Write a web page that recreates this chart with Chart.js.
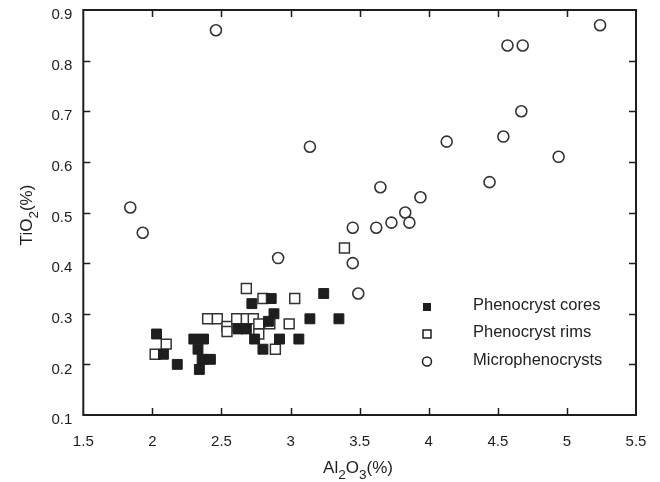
<!DOCTYPE html>
<html>
<head>
<meta charset="utf-8">
<script src="https://cdn.jsdelivr.net/npm/chart.js@4/dist/chart.umd.min.js"></script>
<style>
html,body{margin:0;padding:0;background:#fff;}
#wrap{width:660px;height:482px;}
</style>
</head>
<body>
<div id="wrap"><canvas id="c" width="660" height="482"></canvas></div>
<script>
// ---- data ----
const xTickLabels = ["1.5","2","2.5","3","3.5","4","4.5","5","5.5"];
const yTickLabels = ["0.1","0.2","0.3","0.4","0.5","0.6","0.7","0.8","0.9"];

const coresAl = [2.03, 2.08, 2.18, 2.30, 2.37, 2.33, 2.36, 2.42, 2.34, 2.72, 2.86, 2.88, 2.84, 2.62, 2.68, 2.74, 2.80, 2.92, 3.06, 3.14, 3.35, 3.24];
const coresTi = [0.26, 0.22, 0.20, 0.25, 0.25, 0.23, 0.21, 0.21, 0.19, 0.32, 0.33, 0.30, 0.285, 0.27, 0.27, 0.25, 0.23, 0.25, 0.25, 0.29, 0.29, 0.34];

const rimsAl = [2.02, 2.10, 2.40, 2.47, 2.54, 2.54, 2.61, 2.68, 2.73, 2.68, 2.80, 3.03, 2.77, 2.77, 2.85, 2.99, 2.89, 3.39];
const rimsTi = [0.22, 0.24, 0.29, 0.29, 0.275, 0.265, 0.29, 0.29, 0.29, 0.35, 0.33, 0.33, 0.28, 0.26, 0.28, 0.28, 0.23, 0.43];

const microAl = [1.84, 1.93, 2.46, 2.91, 3.14, 3.45, 3.45, 3.49, 3.62, 3.65, 3.73, 3.83, 3.86, 3.94, 4.13, 4.44, 4.54, 4.57, 4.67, 4.68, 4.94, 5.24];
const microTi = [0.51, 0.46, 0.86, 0.41, 0.63, 0.47, 0.40, 0.34, 0.47, 0.55, 0.48, 0.50, 0.48, 0.53, 0.64, 0.56, 0.65, 0.83, 0.70, 0.83, 0.61, 0.87];

const seriesNames = ["Phenocryst cores", "Phenocryst rims", "Microphenocrysts"];

const pts = (xs, ys) => xs.map((x, i) => ({x: x, y: ys[i]}));

const INK = '#1e1e1e';
const FONT = '"Liberation Sans", Arial, Helvetica, sans-serif';

// frame + inward ticks + axis titles + legend
const decor = {
  id: 'decor',
  afterDraw(chart) {
    const ctx = chart.ctx;
    const a = chart.chartArea;
    const xs = chart.scales.x, ys = chart.scales.y;
    ctx.save();
    ctx.strokeStyle = INK;
    ctx.lineWidth = 2;
    ctx.strokeRect(a.left, a.top, a.right - a.left, a.bottom - a.top);
    ctx.lineWidth = 1.5;
    const tl = 7;
    ctx.beginPath();
    xs.ticks.forEach(t => {
      const px = Math.round(xs.getPixelForValue(t.value)) + 0.5;
      if (px <= a.left + 2 || px >= a.right - 2) return;
      ctx.moveTo(px, a.bottom); ctx.lineTo(px, a.bottom - tl);
      ctx.moveTo(px, a.top); ctx.lineTo(px, a.top + tl);
    });
    ys.ticks.forEach(t => {
      const py = Math.round(ys.getPixelForValue(t.value)) + 0.5;
      if (py <= a.top + 2 || py >= a.bottom - 2) return;
      ctx.moveTo(a.left, py); ctx.lineTo(a.left + tl, py);
      ctx.moveTo(a.right, py); ctx.lineTo(a.right - tl, py);
    });
    ctx.stroke();

    // axis titles with subscripts
    const drawParts = (parts, cx, baseline, size) => {
      const sub = size * 0.8;
      let w = 0;
      parts.forEach(p => { ctx.font = (p[1] ? sub : size) + 'px ' + FONT; w += ctx.measureText(p[0]).width; });
      let x = cx - w / 2;
      ctx.textBaseline = 'alphabetic';
      ctx.textAlign = 'left';
      parts.forEach(p => {
        ctx.font = (p[1] ? sub : size) + 'px ' + FONT;
        ctx.fillText(p[0], x, baseline + (p[1] ? size * 0.36 : 0));
        x += ctx.measureText(p[0]).width;
      });
    };
    ctx.fillStyle = INK;
    drawParts([["Al",0],["2",1],["O",0],["3",1],["(%)",0]], 358, 473, 17);
    ctx.save();
    ctx.translate(32, 215);
    ctx.rotate(-Math.PI / 2);
    drawParts([["TiO",0],["2",1],["(%)",0]], 0, 0, 17);
    ctx.restore();

    // legend
    const lx = 427, ly = [307, 334, 361.5], tx = 473;
    ctx.lineWidth = 1.5;
    ctx.strokeStyle = INK;
    ctx.fillStyle = INK;
    ctx.fillRect(lx - 4, ly[0] - 4, 8, 8);
    ctx.strokeRect(lx - 4, ly[1] - 4, 8, 8);
    ctx.beginPath(); ctx.arc(lx, ly[2], 4.5, 0, Math.PI * 2); ctx.stroke();
    ctx.font = '16.5px ' + FONT;
    ctx.textBaseline = 'middle';
    ctx.textAlign = 'left';
    ctx.fillStyle = '#222';
    seriesNames.forEach((n, i) => ctx.fillText(n, tx, ly[i] - 1.5));
    ctx.restore();
  }
};

new Chart(document.getElementById('c'), {
  type: 'scatter',
  data: {
    datasets: [
      { label: seriesNames[0], data: pts(coresAl, coresTi), pointStyle: 'rect', pointRadius: 7, pointBackgroundColor: INK, pointBorderColor: INK, pointBorderWidth: 1 },
      { label: seriesNames[1], data: pts(rimsAl, rimsTi), pointStyle: 'rect', pointRadius: 7, pointBackgroundColor: '#fff', pointBorderColor: '#333', pointBorderWidth: 1.5 },
      { label: seriesNames[2], data: pts(microAl, microTi), pointStyle: 'circle', pointRadius: 5.5, pointBackgroundColor: '#fff', pointBorderColor: '#333', pointBorderWidth: 1.6 }
    ]
  },
  options: {
    responsive: false,
    animation: false,
    events: [],
    layout: { padding: { left: 0, right: 24, top: 10, bottom: 0 } },
    plugins: { legend: { display: false }, tooltip: { enabled: false } },
    scales: {
      x: {
        type: 'linear', min: 1.5, max: 5.5,
        afterFit(s) { s.height = 67; s.paddingLeft = 0; s.paddingRight = 0; },
        grid: { display: false, drawTicks: false },
        border: { display: false },
        ticks: {
          stepSize: 0.5, padding: 18, color: INK,
          font: { family: FONT, size: 15 },
          callback: (v) => xTickLabels[Math.round((v - 1.5) / 0.5)]
        }
      },
      y: {
        type: 'linear', min: 0.1, max: 0.9,
        afterFit(s) { s.width = 83.3; s.paddingTop = 0; s.paddingBottom = 0; },
        grid: { display: false, drawTicks: false },
        border: { display: false },
        ticks: {
          stepSize: 0.1, padding: 11, color: INK, labelOffset: 5,
          font: { family: FONT, size: 15 },
          callback: (v) => yTickLabels[Math.round((v - 0.1) / 0.1)]
        }
      }
    }
  },
  plugins: [decor]
});
</script>
</body>
</html>
